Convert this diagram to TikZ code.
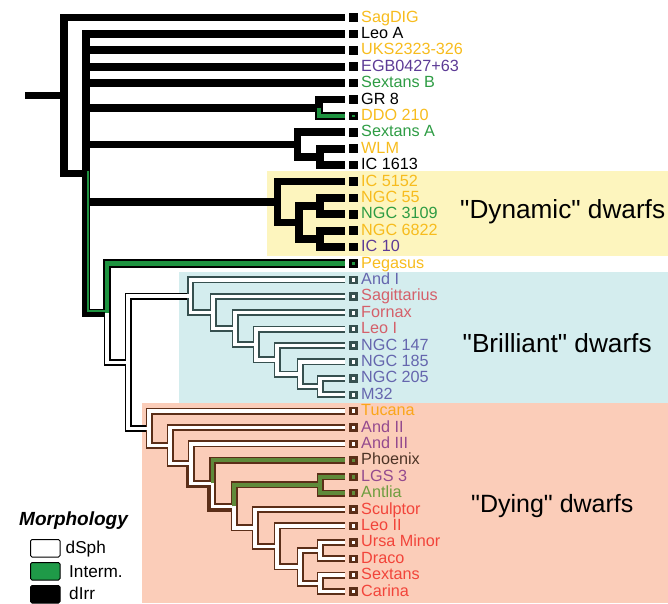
\documentclass[tikz,border=0pt]{standalone}
\usepackage{fontspec}
\setmainfont{Liberation Sans}[Ligatures=TeXOff]
\definecolor{yelbg}{HTML}{FDF5BE}
\definecolor{cyanbg}{HTML}{D4EDEE}
\definecolor{salbg}{HTML}{FBCDB9}
\definecolor{cyel}{HTML}{F7BC1E}
\definecolor{corg}{HTML}{FAA61A}
\definecolor{cgrn}{HTML}{2E9C44}
\definecolor{cpur}{HTML}{5D3B96}
\definecolor{cblu}{HTML}{6566AE}
\definecolor{crose}{HTML}{D4606A}
\definecolor{cmauve}{HTML}{944A8E}
\definecolor{cphx}{HTML}{4D3426}
\definecolor{cant}{HTML}{6E9D3F}
\definecolor{cred}{HTML}{F2443A}
\definecolor{igreen}{HTML}{1E9340}
\definecolor{olivef}{HTML}{5F8A3A}
\definecolor{brn}{HTML}{5B2E18}
\definecolor{slate}{HTML}{36504F}
\definecolor{lgreen}{HTML}{1F9A48}
\begin{document}
\begin{tikzpicture}[x=1pt,y=-1pt,
  irr/.style={line width=7.7pt, draw=black},
  olk/.style={line width=7pt, draw=black},
  ols/.style={line width=7pt, draw=slate},
  olb/.style={line width=7pt, draw=brn},
  oli/.style={line width=8.2pt, draw=black},
  inw/.style={line width=3.5pt, draw=white},
  ing/.style={line width=4.8pt, draw=igreen},
  ino/.style={line width=3.8pt, draw=olivef},
  mkirr/.style={fill=black, minimum size=8.5pt, inner sep=0pt, outer sep=0pt},
  mkgi/.style={draw=black, fill=igreen, line width=3pt, minimum size=5.5pt, inner sep=0pt},
  mkws/.style={draw=slate, fill=white, line width=2.4pt, minimum size=6pt, inner sep=0pt},
  mkwb/.style={draw=brn, fill=white, line width=2.4pt, minimum size=6pt, inner sep=0pt},
  mkgb/.style={draw=brn, fill=olivef, line width=2.4pt, minimum size=6pt, inner sep=0pt},
  lab/.style={anchor=base west, inner sep=0pt, font=\fontsize{16.2}{18}\selectfont},
  grp/.style={anchor=base west, inner sep=0pt, font=\fontsize{26.2}{28}\selectfont},
  leg/.style={anchor=base west, inner sep=0pt, font=\fontsize{17.2}{19}\selectfont},
  legbox/.style={draw=black, line width=1pt, rounded corners=1.5pt}
]
\useasboundingbox (0,0) rectangle (668,603);
% backgrounds
\fill[yelbg] (267,170.5) rectangle (668,255.5);
\fill[cyanbg] (179,272) rectangle (668,402.5);
\fill[salbg] (141.5,402.5) rectangle (668,603);

% leaves
\foreach \i/\nm/\col/\mk in {
 0/SagDIG/cyel/mkirr, 1/Leo A/black/mkirr, 2/UKS2323-326/cyel/mkirr,
 3/EGB0427+63/cpur/mkirr, 4/Sextans B/cgrn/mkirr, 5/GR 8/black/mkirr,
 6/DDO 210/cyel/mkgi, 7/Sextans A/cgrn/mkirr, 8/WLM/cyel/mkirr,
 9/IC 1613/black/mkirr, 10/IC 5152/cyel/mkirr, 11/NGC 55/cyel/mkirr,
 12/NGC 3109/cgrn/mkirr, 13/NGC 6822/cyel/mkirr, 14/IC 10/cpur/mkirr,
 15/Pegasus/cyel/mkgi, 16/And I/cblu/mkws, 17/Sagittarius/crose/mkws,
 18/Fornax/crose/mkws, 19/Leo I/crose/mkws, 20/NGC 147/cblu/mkws,
 21/NGC 185/cblu/mkws, 22/NGC 205/cblu/mkws, 23/M32/cblu/mkws,
 24/Tucana/corg/mkwb, 25/And II/cmauve/mkwb, 26/And III/cmauve/mkwb,
 27/Phoenix/cphx/mkgb, 28/LGS 3/cmauve/mkgb, 29/Antlia/cant/mkgb,
 30/Sculptor/cred/mkwb, 31/Leo II/cred/mkwb, 32/Ursa Minor/cred/mkwb,
 33/Draco/cred/mkwb, 34/Sextans/cred/mkwb, 35/Carina/cred/mkwb} {
  \pgfmathsetmacro\yy{17.5+16.4*\i}
  \coordinate (t\i) at (345,\yy);
  \node[\mk] (m\i) at (353.5,\yy) {};
  \node[lab, text=\col] (l\i) at (361,\yy+4.5) {\nm};
}

% internal tree nodes
\coordinate (stub) at (25,95.45);
\coordinate (root) at (64,95.45);
\coordinate (B) at (86,173.4);
\coordinate (n58) at (319,107.7);
\coordinate (nSA) at (297.5,144.6);
\coordinate (n79) at (320,156.9);
\coordinate (nDyn) at (277.5,202);
\coordinate (nD2) at (299,222.5);
\coordinate (n1112) at (320,206.1);
\coordinate (n1314) at (320,238.9);
\coordinate (C) at (107,312.9);
\coordinate (D) at (128,362.25);
\coordinate (F) at (190.5,296.2);
\coordinate (G) at (213,312.45);
\coordinate (H) at (235,328.6);
\coordinate (I) at (256,344.5);
\coordinate (J) at (277,359.85);
\coordinate (K) at (300,374.2);
\coordinate (L) at (320,386.5);
\coordinate (E) at (149,428.3);
\coordinate (N) at (170,445.55);
\coordinate (O) at (191,463.6);
\coordinate (P) at (212.5,483.35);
\coordinate (Q) at (234,506.4);
\coordinate (R) at (320,484.9);
\coordinate (S) at (255,527.95);
\coordinate (T) at (277,546.4);
\coordinate (V) at (300,566.9);
\coordinate (W1) at (320,550.5);
\coordinate (W2) at (320,583.3);

% ---------- outline phase ----------
\draw[irr] (stub) -- (root);
\draw[irr] (root) |- (t0);
\draw[irr] (root) |- (B);
\foreach \c in {t1,t2,t3,t4,n58,nSA,nDyn,C} \draw[irr] (B) |- (\c);
\draw[irr] (n58) |- (t5);
\draw[irr] (nSA) |- (t7); \draw[irr] (nSA) |- (n79);
\draw[irr] (n79) |- (t8); \draw[irr] (n79) |- (t9);
\draw[irr] (nDyn) |- (t10); \draw[irr] (nDyn) |- (nD2);
\draw[irr] (nD2) |- (n1112); \draw[irr] (nD2) |- (n1314);
\draw[irr] (n1112) |- (t11); \draw[irr] (n1112) |- (t12);
\draw[irr] (n1314) |- (t13); \draw[irr] (n1314) |- (t14);
\draw[oli] (n58) |- (t6);
\draw[oli] (C) |- (t15);
\draw[olk] (C) |- (D);
\draw[olk] (D) |- (F);
\draw[olk] (D) |- (E);
\draw[ols] (F) |- (t16); \draw[ols] (F) |- (G);
\draw[ols] (G) |- (t17); \draw[ols] (G) |- (H);
\draw[ols] (H) |- (t18); \draw[ols] (H) |- (I);
\draw[ols] (I) |- (t19); \draw[ols] (I) |- (J);
\draw[ols] (J) |- (t20); \draw[ols] (J) |- (K);
\draw[ols] (K) |- (t21); \draw[ols] (K) |- (L);
\draw[ols] (L) |- (t22); \draw[ols] (L) |- (t23);
\draw[olb] (E) |- (t24); \draw[olb] (E) |- (N);
\draw[olb] (N) |- (t25); \draw[olb] (N) |- (O);
\draw[olb] (O) |- (t26); \draw[olb] (O) |- (P);
\draw[olb] ([shift={(-1.6,1.6)}]O) |- ([shift={(-1.6,1.6)}]P);
\draw[olb] (P) |- (t27); \draw[olb] (P) |- (Q);
\draw[olb] ([shift={(-1.6,1.6)}]P) |- ([shift={(-1.6,1.6)}]Q);
\draw[olb] (Q) |- (R); \draw[olb] (Q) |- (S);
\draw[olb] (R) |- (t28); \draw[olb] (R) |- (t29);
\draw[olb] (S) |- (t30); \draw[olb] (S) |- (T);
\draw[olb] (T) |- (t31); \draw[olb] (T) |- (V);
\draw[olb] (V) |- (W1); \draw[olb] (V) |- (W2);
\draw[olb] (W1) |- (t32); \draw[olb] (W1) |- (t33);
\draw[olb] (W2) |- (t34); \draw[olb] (W2) |- (t35);

% ---------- inner phase ----------
\draw[line width=1.6pt, draw=igreen] ([shift={(2.2,-2.2)}]B) |- ([shift={(2.2,-2.2)}]C);
\draw[ing] (n58) |- (t6);
\draw[ing] (C) |- (t15);
\foreach \a/\b in {C/D, D/F, D/E, F/t16, F/G, G/t17, G/H, H/t18, H/I, I/t19, I/J,
  J/t20, J/K, K/t21, K/L, L/t22, L/t23,
  E/t24, E/N, N/t25, N/O, O/t26, O/P, P/Q, Q/S, S/t30, S/T, T/t31, T/V,
  V/W1, V/W2, W1/t32, W1/t33, W2/t34, W2/t35}
  \draw[inw] (\a) |- (\b);
\foreach \a/\b in {P/t27, Q/R, R/t28, R/t29}
  \draw[ino] (\a) |- (\b);

% group labels
\node[grp] (dyn) at (460,218.3) {"Dynamic" dwarfs};
\node[grp] (bri) at (462.5,352.7) {"Brilliant" dwarfs};
\node[grp, font=\fontsize{25}{28}\selectfont] (dyi) at (471,512.7) {"Dying" dwarfs};

% legend
\node[anchor=base west, inner sep=0pt, font=\fontsize{19}{21}\selectfont\bfseries\itshape] (morph) at (19,525) {Morphology};
\draw[legbox, fill=white] (30.5,539.5) rectangle (60,557) coordinate (bx1);
\draw[legbox, fill=lgreen] (30.5,562.5) rectangle (60,580) coordinate (bx2);
\draw[legbox, fill=black] (30.5,585.5) rectangle (60,603) coordinate (bx3);
\node[leg] (lg1) at (65.5,553.3) {dSph};
\node[leg] (lg2) at (69,577.3) {Interm.};
\node[leg] (lg3) at (69,599) {dIrr};
\end{tikzpicture}
\end{document}
